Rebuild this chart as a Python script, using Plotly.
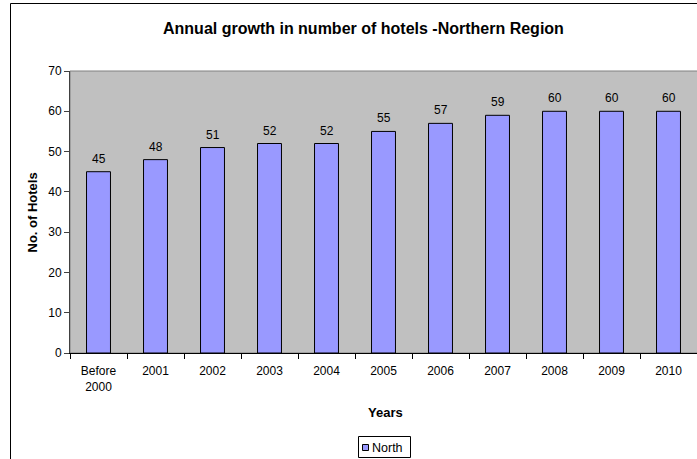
import plotly.graph_objects as go

categories = ["Before<br>2000", "2001", "2002", "2003", "2004", "2005", "2006", "2007", "2008", "2009", "2010"]
hotels = [45, 48, 51, 52, 52, 55, 57, 59, 60, 60, 60]
series_name = "North"

W, H = 697, 459
L, R, T, B = 70, 0, 71, 106
pw = W - L - R
ph = H - T - B

def px(x):
    return (x - L) / pw

def py(y):
    return (H - B - y) / ph

FONT = "Liberation Sans, Arial, sans-serif"
BAR_COLOR = "#9999FF"

fig = go.Figure()
fig.add_trace(go.Bar(
    x=categories, y=hotels, name=series_name,
    marker=dict(color=BAR_COLOR, line=dict(color="#000000", width=1)),
    width=0.42,
    showlegend=False,
))

# data labels (positioned by category index on the category axis)
for i, v in enumerate(hotels):
    fig.add_annotation(x=i, y=v, text=str(v), showarrow=False,
                       xanchor="center", yanchor="middle", yshift=13,
                       font=dict(family=FONT, size=12, color="#000000"))

fig.update_layout(
    width=W, height=H,
    margin=dict(l=L, r=R, t=T, b=B),
    paper_bgcolor="#FFFFFF",
    plot_bgcolor="#C0C0C0",
    font=dict(family=FONT, size=12, color="#000000"),
    showlegend=False,
)

fig.update_xaxes(
    type="category",
    range=[-0.5, len(categories) - 0.5],
    showline=True, linecolor="#000000", linewidth=1,
    ticks="outside", ticklen=5, tickcolor="#000000",
    tickson="boundaries",
    ticklabelstandoff=7,
    tickangle=0,
    tickfont=dict(family=FONT, size=12),
    showgrid=False, zeroline=False,
)
fig.update_yaxes(
    range=[0, 70], dtick=10,
    showline=True, linecolor="#404040", linewidth=1,
    ticks="outside", ticklen=5, tickcolor="#404040",
    tickfont=dict(family=FONT, size=12),
    showgrid=False, zeroline=False,
)

# plot area border (top/right)
fig.add_shape(type="rect", xref="paper", yref="paper", x0=0, y0=0, x1=1.01, y1=1,
              line=dict(color="#808080", width=1), layer="below")

# outer chart border
fig.add_shape(type="rect", xref="paper", yref="paper",
              x0=px(10.5), y0=py(470), x1=px(720), y1=py(3.5),
              line=dict(color="#000000", width=1))

# legend (drawn manually to match the compact box)
fig.add_shape(type="rect", xref="paper", yref="paper",
              x0=px(358.5), y0=py(457.5), x1=px(410.5), y1=py(436.5),
              line=dict(color="#000000", width=1), fillcolor="#FFFFFF")
fig.add_shape(type="rect", xref="paper", yref="paper",
              x0=px(362.5), y0=py(450.5), x1=px(368.5), y1=py(444.5),
              line=dict(color="#000000", width=1), fillcolor=BAR_COLOR)
fig.add_annotation(text=series_name, xref="paper", yref="paper",
                   x=px(369.5), y=py(447.5), xanchor="left", yanchor="middle",
                   showarrow=False, font=dict(family=FONT, size=12.5, color="#000000"))

fig.add_annotation(text="<b>Annual growth in number of hotels -Northern Region</b>",
                   xref="paper", yref="paper", x=px(363.5), y=py(28.5),
                   xanchor="center", yanchor="middle", showarrow=False,
                   font=dict(family=FONT, size=16, color="#000000"))
fig.add_annotation(text="<b>No. of Hotels</b>",
                   xref="paper", yref="paper", x=px(32), y=py(212.5),
                   xanchor="center", yanchor="middle", showarrow=False, textangle=-90,
                   font=dict(family=FONT, size=13, color="#000000"))
fig.add_annotation(text="<b>Years</b>",
                   xref="paper", yref="paper", x=px(385), y=py(412.5),
                   xanchor="center", yanchor="middle", showarrow=False,
                   font=dict(family=FONT, size=13, color="#000000"))

fig.write_html("out.html", config={"displayModeBar": False},
               post_script="document.body.style.margin='0px';document.body.style.padding='0px';")
